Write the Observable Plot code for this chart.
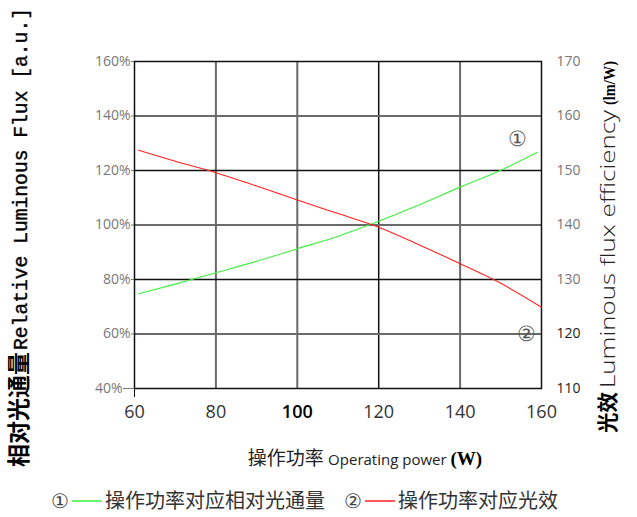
<!DOCTYPE html>
<html><head><meta charset="utf-8">
<script src="https://cdn.jsdelivr.net/npm/d3@7"></script>
<script src="https://cdn.jsdelivr.net/npm/@observablehq/plot@0.6"></script>
<style>body{margin:0;background:#fff}</style>
</head><body><div id="chart"></div>
<script>
// Data
const fluxPower = [61, 70, 80, 90, 100, 110, 120, 130, 140, 150, 159];
const relFlux   = [74.75, 78.3, 82.5, 86.7, 91.3, 95.9, 101.4, 107.4, 113.9, 120.1, 126.7]; // %
const effPower  = [61, 70, 80, 90, 100, 110, 120, 130, 140, 150, 160];
const efficacy  = [153.7, 151.7, 149.6, 147.15, 144.6, 142.1, 139.6, 136.35, 132.9, 129.3, 124.9]; // lm/W
const xTicks = [60, 80, 100, 120, 140, 160];
const leftTicks = [40, 60, 80, 100, 120, 140, 160];
const rightTicks = [110, 120, 130, 140, 150, 160, 170];
const grayGridX = [80, 100, 140];
const darkGridX = [120];
const grayGridY = [60, 100, 140];
const darkGridY = [80, 120];
const markers = [{x: 154, y: 131.5, t: "①"}, {x: 156.2, y: 60, t: "②"}];

// right axis (lm/W) shares the frame with the left axis (%)
const toLeft = v => 40 + (v - 110) * 2;
const fromLeft = d => 110 + (d - 40) / 2;

const fluxData = fluxPower.map((p, i) => ({p, v: relFlux[i]}));
const effData = effPower.map((p, i) => ({p, v: toLeft(efficacy[i])}));

const lightFont = "'Open Sans', 'Noto Sans', sans-serif";

const chart = Plot.plot({
  width: 637, height: 517,
  marginLeft: 134, marginRight: 96, marginTop: 61, marginBottom: 129,
  style: {fontFamily: lightFont, background: "#fff"},
  x: {domain: [60, 160]},
  y: {domain: [40, 160]},
  marks: [
    Plot.ruleX(grayGridX, {stroke: "#6a6a6a", strokeWidth: 2}),
    Plot.ruleX(darkGridX, {stroke: "#111", strokeWidth: 1.5}),
    Plot.ruleY(grayGridY, {stroke: "#6a6a6a", strokeWidth: 2}),
    Plot.ruleY(darkGridY, {stroke: "#111", strokeWidth: 1.5}),
    Plot.frame({stroke: "#111", strokeWidth: 1.5}),
    Plot.axisY({anchor: "left", ticks: leftTicks.slice(1), tickFormat: d => d + "%", tickSize: 3, tickPadding: 1, fontSize: 14, color: "#777", label: null}),
    Plot.axisY({anchor: "left", ticks: [40], tickFormat: d => d + "%", tickSize: 11, tickPadding: 1, fontSize: 14, color: "#777", label: null}),
    Plot.axisY({anchor: "right", ticks: rightTicks.slice(2).map(toLeft), tickFormat: fromLeft, tickSize: 0, tickPadding: 15, fontSize: 14, color: "#777", label: null}),
    Plot.axisY({anchor: "right", ticks: rightTicks.slice(0, 2).map(toLeft), tickFormat: fromLeft, tickSize: 0, tickPadding: 15, fontSize: 14, color: "#222", label: null}),
    Plot.axisX({ticks: xTicks, tickSize: 0, tickPadding: 17, fontSize: 18, color: "#333", label: null}),
    Plot.axisX({ticks: [60], tickSize: 9, tickFormat: () => "", color: "#111", label: null}),
    Plot.line(fluxData, {x: "p", y: "v", stroke: "#3ef03e", strokeWidth: 1.1, curve: "monotone-x"}),
    Plot.line(effData, {x: "p", y: "v", stroke: "#ff1f1f", strokeWidth: 1.1, curve: "monotone-x"}),
    Plot.text(markers, {x: "x", y: "y", text: "t", fontSize: 21, fill: "#555", fontFamily: "'DejaVu Serif', serif"})
  ]
});
document.getElementById("chart").appendChild(chart);

const svg = d3.select(chart);
svg.selectAll("text").filter(function(){ return this.textContent === "100"; })
  .attr("fill", "#000").attr("font-weight", "600");

function vtext(x, y, str, opts) {
  const t = svg.append("text")
    .attr("transform", `translate(${x},${y}) rotate(-90)`)
    .attr("text-anchor", "start")
    .attr("font-family", opts.family).attr("font-size", opts.size)
    .attr("font-weight", opts.weight || 400).attr("fill", opts.fill || "#000")
    .text(str);
  if (opts.len) t.attr("textLength", opts.len).attr("lengthAdjust", "spacingAndGlyphs");
  if (opts.stroke) t.attr("stroke", opts.fill || "#000").attr("stroke-width", opts.stroke);
  return t;
}

// Left axis title (reads bottom to top)
vtext(27, 467, "相对光通量", {family: "'Noto Sans CJK SC'", size: 23, weight: 700, len: 115});
vtext(27, 350, "Relative Luminous Flux [a.u.]", {family: "'Liberation Mono', monospace", size: 20, len: 342, stroke: 0.4});

// Right axis title
vtext(615, 433, "光效", {family: "'Noto Sans CJK SC'", size: 21, weight: 700, len: 41});
vtext(615, 388, "Luminous flux efficiency", {family: lightFont, size: 21, weight: 300, fill: "#222", len: 278});
vtext(615, 105, "(lm/W)", {family: "'Liberation Serif', serif", size: 17, weight: 700, len: 44});

// X axis title
const xt = svg.append("text").attr("x", 365).attr("y", 465).attr("text-anchor", "middle").attr("fill", "#222");
xt.append("tspan").attr("font-family", "'Noto Sans CJK SC'").attr("font-size", 19).text("操作功率 ");
xt.append("tspan").attr("font-family", lightFont).attr("font-size", 15).text("Operating power ");
xt.append("tspan").attr("font-family", "'Liberation Serif', serif").attr("font-weight", 700).attr("font-size", 19).attr("fill", "#000").text("(W)");

// Legend
const legend = [
  {num: "①", color: "#3ef03e", label: "操作功率对应相对光通量", x: 51},
  {num: "②", color: "#ff1f1f", label: "操作功率对应光效", x: 344}
];
legend.forEach(d => {
  svg.append("text").attr("x", d.x).attr("y", 508).attr("text-anchor", "start")
    .attr("font-size", 20).attr("fill", "#444")
    .attr("font-family", "'DejaVu Serif', serif").text(d.num);
  svg.append("line").attr("x1", d.x + 21).attr("x2", d.x + 51).attr("y1", 501).attr("y2", 501)
    .attr("stroke", d.color).attr("stroke-width", 1.5);
  svg.append("text").attr("x", d.x + 54).attr("y", 508).attr("text-anchor", "start")
    .attr("font-size", 20).attr("fill", "#333")
    .attr("font-family", "'Noto Sans CJK SC'").text(d.label);
});
</script>
</body></html>
